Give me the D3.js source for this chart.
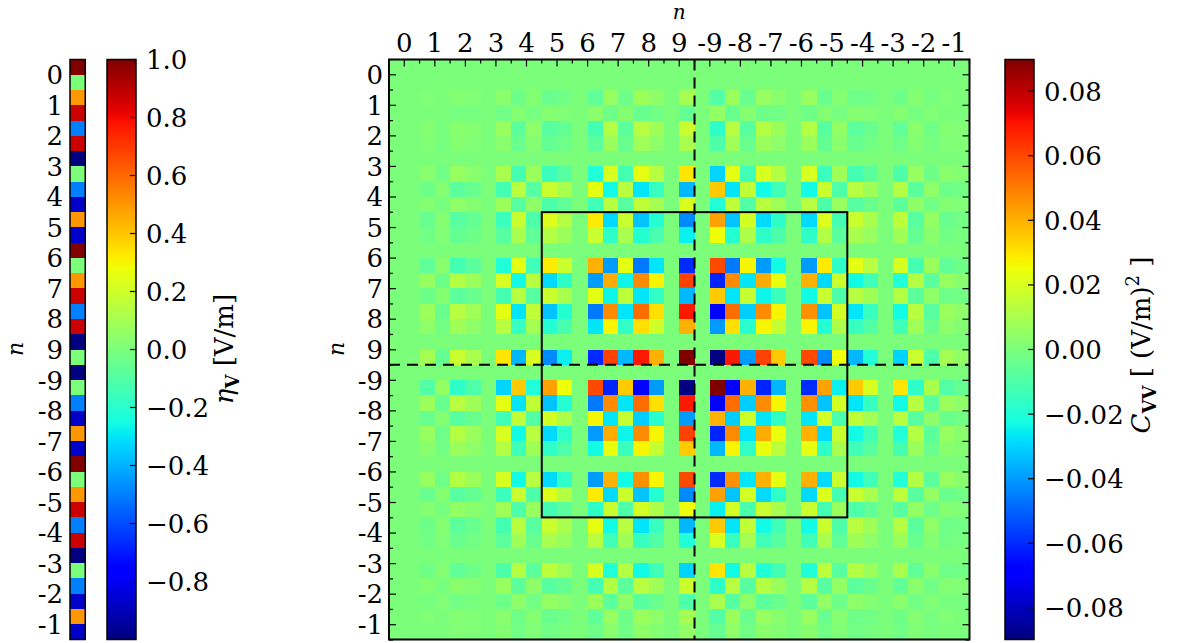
<!DOCTYPE html>
<html><head><meta charset="utf-8">
<script src="https://cdn.jsdelivr.net/npm/d3@7"></script>
<style>body{margin:0;background:#fff}svg{display:block}</style>
</head><body>
<svg id="c" width="1184" height="643"></svg>
<script>
// ---------- data ----------
const nLabels = ["0","1","2","3","4","5","6","7","8","9","-9","-8","-7","-6","-5","-4","-3","-2","-1"];
const etaV = [1.0,0.0,0.5,0.87,-0.5,0.87,-1.0,0.0,-0.5,-0.87,0.5,-0.87,1.0,0.0,0.5,0.87,-0.5,0.87,-1.0,0.0,
              -1.0,0.0,-0.5,-0.87,0.5,-0.87,1.0,0.0,0.5,0.87,-0.5,0.87,-1.0,0.0,-0.5,-0.87,0.5,-0.87];
const etaTicks = [1.0,0.8,0.6,0.4,0.2,0.0,-0.2,-0.4,-0.6,-0.8];
const cTicks = [0.08,0.06,0.04,0.02,0.00,-0.02,-0.04,-0.06,-0.08];
const cMax = 0.0898;
const z = [0,0,0,0,0,0,0,0,0,0,0,0,0,0,0,0,0,0,0,0,0,0,0,0,0,0,0,0,0,0,0,0,0,0,0,0,0,0];
const cVV = [
z,
z,
[0,0,.001,0,.002,.001,0,.003,-.003,.002,-.004,-.002,0,-.006,.006,-.003,.007,.004,0,.009,0,-.009,.007,-.004,.006,.003,0,.006,-.004,.002,-.003,-.002,0,-.003,.002,-.001,.001,0],
[0,0,0,0,-.001,-.001,0,-.002,.002,-.001,.002,.001,0,.003,-.003,.002,-.004,-.002,0,-.005,0,.005,-.004,.002,-.003,-.002,0,-.003,.002,-.001,.002,.001,0,.002,-.001,.001,0,0],
[0,0,.002,-.001,.003,.002,0,.006,-.007,.004,-.008,-.005,0,-.012,.012,-.007,.013,.008,0,.017,0,-.017,.013,-.008,.012,.007,0,.012,-.008,.005,-.007,-.004,0,-.006,.003,-.002,.002,.001],
[0,0,.001,-.001,.002,.001,0,.003,-.004,.002,-.005,-.003,0,-.007,.007,-.004,.008,.004,0,.010,0,-.010,.008,-.004,.007,.004,0,.007,-.005,.003,-.004,-.002,0,-.003,.002,-.001,.001,.001],
z,
[0,0,.003,-.002,.006,.003,0,.010,-.012,.007,-.014,-.008,0,-.020,.020,-.012,.023,.013,0,.030,0,-.030,.023,-.013,.020,.012,0,.020,-.014,.008,-.012,-.007,0,-.010,.006,-.003,.003,.002],
[0,0,-.003,.002,-.007,-.004,0,-.012,.013,-.008,.017,.010,0,.023,-.023,.013,-.027,-.015,0,-.035,0,.035,-.027,.015,-.023,-.013,0,-.023,.017,-.010,.013,.008,0,.012,-.007,.004,-.003,-.002],
[0,0,.002,-.001,.004,.002,0,.007,-.008,.004,-.010,-.006,0,-.013,.013,-.008,.015,.009,0,.020,0,-.020,.015,-.009,.013,.008,0,.013,-.010,.006,-.008,-.004,0,-.007,.004,-.002,.002,.001],
[0,0,-.004,.002,-.008,-.005,0,-.014,.017,-.010,.021,.012,0,.029,-.029,.017,-.033,-.019,0,-.043,0,.043,-.033,.019,-.029,-.017,0,-.029,.021,-.012,.017,.010,0,.014,-.008,.005,-.004,-.002],
[0,0,-.002,.001,-.005,-.003,0,-.008,.010,-.006,.012,.007,0,.017,-.017,.010,-.019,-.011,0,-.025,0,.025,-.019,.011,-.017,-.010,0,-.017,.012,-.007,.010,.006,0,.008,-.005,.003,-.002,-.001],
z,
[0,0,-.006,.003,-.012,-.007,0,-.020,.023,-.013,.029,.017,0,.040,-.040,.023,-.046,-.027,0,-.060,0,.060,-.046,.027,-.040,-.023,0,-.040,.029,-.017,.023,.013,0,.020,-.012,.007,-.006,-.003],
[0,0,.006,-.003,.012,.007,0,.020,-.023,.013,-.029,-.017,0,-.040,.041,-.024,.047,.027,0,.061,0,-.061,.047,-.027,.041,.024,0,.040,-.029,.017,-.023,-.013,0,-.020,.012,-.007,.006,.003],
[0,0,-.003,.002,-.007,-.004,0,-.012,.013,-.008,.017,.010,0,.023,-.024,.014,-.027,-.016,0,-.035,0,.035,-.027,.016,-.024,-.014,0,-.023,.017,-.010,.013,.008,0,.012,-.007,.004,-.003,-.002],
[0,0,.007,-.004,.013,.008,0,.023,-.027,.015,-.033,-.019,0,-.046,.047,-.027,.053,.031,0,.069,0,-.069,.053,-.031,.047,.027,0,.046,-.033,.019,-.027,-.015,0,-.023,.013,-.008,.007,.004],
[0,0,.004,-.002,.008,.004,0,.013,-.015,.009,-.019,-.011,0,-.027,.027,-.016,.031,.018,0,.040,0,-.040,.031,-.018,.027,.016,0,.027,-.019,.011,-.015,-.009,0,-.013,.008,-.004,.004,.002],
z,
[0,0,.009,-.005,.017,.010,0,.030,-.035,.020,-.043,-.025,0,-.060,.061,-.035,.069,.040,0,.0898,0,-.0898,.069,-.040,.061,.035,0,.060,-.043,.025,-.035,-.020,0,-.030,.017,-.010,.009,.005],
z,
[0,0,-.009,.005,-.017,-.010,0,-.030,.035,-.020,.043,.025,0,.060,-.061,.035,-.069,-.040,0,-.0898,0,.0898,-.069,.040,-.061,-.035,0,-.060,.043,-.025,.035,.020,0,.030,-.017,.010,-.009,-.005],
[0,0,.007,-.004,.013,.008,0,.023,-.027,.015,-.033,-.019,0,-.046,.047,-.027,.053,.031,0,.069,0,-.069,.053,-.031,.047,.027,0,.046,-.033,.019,-.027,-.015,0,-.023,.013,-.008,.007,.004],
[0,0,-.004,.002,-.008,-.004,0,-.013,.015,-.009,.019,.011,0,.027,-.027,.016,-.031,-.018,0,-.040,0,.040,-.031,.018,-.027,-.016,0,-.027,.019,-.011,.015,.009,0,.013,-.008,.004,-.004,-.002],
[0,0,.006,-.003,.012,.007,0,.020,-.023,.013,-.029,-.017,0,-.040,.041,-.024,.047,.027,0,.061,0,-.061,.047,-.027,.041,.024,0,.040,-.029,.017,-.023,-.013,0,-.020,.012,-.007,.006,.003],
[0,0,.003,-.002,.007,.004,0,.012,-.013,.008,-.017,-.010,0,-.023,.024,-.014,.027,.016,0,.035,0,-.035,.027,-.016,.024,.014,0,.023,-.017,.010,-.013,-.008,0,-.012,.007,-.004,.003,.002],
z,
[0,0,.006,-.003,.012,.007,0,.020,-.023,.013,-.029,-.017,0,-.040,.040,-.023,.046,.027,0,.060,0,-.060,.046,-.027,.040,.023,0,.040,-.029,.017,-.023,-.013,0,-.020,.012,-.007,.006,.003],
[0,0,-.004,.002,-.008,-.005,0,-.014,.017,-.010,.021,.012,0,.029,-.029,.017,-.033,-.019,0,-.043,0,.043,-.033,.019,-.029,-.017,0,-.029,.021,-.012,.017,.010,0,.014,-.008,.005,-.004,-.002],
[0,0,.002,-.001,.005,.003,0,.008,-.010,.006,-.012,-.007,0,-.017,.017,-.010,.019,.011,0,.025,0,-.025,.019,-.011,.017,.010,0,.017,-.012,.007,-.010,-.006,0,-.008,.005,-.003,.002,.001],
[0,0,-.003,.002,-.007,-.004,0,-.012,.013,-.008,.017,.010,0,.023,-.023,.013,-.027,-.015,0,-.035,0,.035,-.027,.015,-.023,-.013,0,-.023,.017,-.010,.013,.008,0,.012,-.007,.004,-.003,-.002],
[0,0,-.002,.001,-.004,-.002,0,-.007,.008,-.004,.010,.006,0,.013,-.013,.008,-.015,-.009,0,-.020,0,.020,-.015,.009,-.013,-.008,0,-.013,.010,-.006,.008,.004,0,.007,-.004,.002,-.002,-.001],
z,
[0,0,-.003,.002,-.006,-.003,0,-.010,.012,-.007,.014,.008,0,.020,-.020,.012,-.023,-.013,0,-.030,0,.030,-.023,.013,-.020,-.012,0,-.020,.014,-.008,.012,.007,0,.010,-.006,.003,-.003,-.002],
[0,0,.002,-.001,.003,.002,0,.006,-.007,.004,-.008,-.005,0,-.012,.012,-.007,.013,.008,0,.017,0,-.017,.013,-.008,.012,.007,0,.012,-.008,.005,-.007,-.004,0,-.006,.003,-.002,.002,.001],
[0,0,-.001,.001,-.002,-.001,0,-.003,.004,-.002,.005,.003,0,.007,-.007,.004,-.008,-.004,0,-.010,0,.010,-.008,.004,-.007,-.004,0,-.007,.005,-.003,.004,.002,0,.003,-.002,.001,-.001,-.001],
[0,0,.001,0,.002,.001,0,.003,-.003,.002,-.004,-.002,0,-.006,.006,-.003,.007,.004,0,.009,0,-.009,.007,-.004,.006,.003,0,.006,-.004,.002,-.003,-.002,0,-.003,.002,-.001,.001,0],
[0,0,0,0,.001,.001,0,.002,-.002,.001,-.002,-.001,0,-.003,.003,-.002,.004,.002,0,.005,0,-.005,.004,-.002,.003,.002,0,.003,-.002,.001,-.002,-.001,0,-.002,.001,-.001,0,0]
];

// ---------- colormap (jet) ----------
function seg(pts, t){
  for (let i=1;i<pts.length;i++){
    if (t<=pts[i][0]){ const a=pts[i-1], b=pts[i]; return a[1]+(b[1]-a[1])*(t-a[0])/(b[0]-a[0]); }
  }
  return pts[pts.length-1][1];
}
const RJ=[[0,0],[0.35,0],[0.66,1],[0.89,1],[1,0.5]];
const GJ=[[0,0],[0.125,0],[0.375,1],[0.64,1],[0.91,0],[1,0]];
const BJ=[[0,0.5],[0.11,1],[0.34,1],[0.65,0],[1,0]];
function jet(t){ t=Math.max(0,Math.min(1,t));
  return d3.rgb(Math.round(255*seg(RJ,t)),Math.round(255*seg(GJ,t)),Math.round(255*seg(BJ,t))).toString(); }

// ---------- layout ----------
const svg = d3.select("#c");
const FONT = "DejaVu Serif";
const FS = 26;
const yTop = 59.5, yBot = 639.5;
const mL = 389, mR = 969.5;
const idx = d3.range(38);
const xM = d3.scaleBand().domain(idx).range([mL, mR]);
const yM = d3.scaleBand().domain(idx).range([yTop, yBot]);
const cell = xM.bandwidth();
const cColor = d3.scaleSequential(jet).domain([-cMax, cMax]);
const eColor = d3.scaleSequential(jet).domain([-1, 1]);

const defs = svg.append("defs");
const grad = defs.append("linearGradient").attr("id", "jetG").attr("x1",0).attr("y1",1).attr("x2",0).attr("y2",0);
d3.range(0,1.0001,0.01).forEach(t=> grad.append("stop").attr("offset", t).attr("stop-color", jet(t)));

// ---------- eta column ----------
const vx0 = 70;
svg.append("g").selectAll("rect").data(etaV).join("rect")
  .attr("x", vx0).attr("y", (d,i)=>yM(i)).attr("width", cell).attr("height", cell+0.3)
  .attr("fill", d=>eColor(d)).attr("shape-rendering","crispEdges");
svg.append("rect").attr("x", vx0).attr("y", yTop).attr("width", cell).attr("height", yBot-yTop)
  .attr("fill","none").attr("stroke","#000").attr("stroke-width",1.5);
const pairY = i => yM(2*i) + cell;
svg.append("g").selectAll("text").data(nLabels).join("text")
  .attr("x", 63).attr("y", (d,i)=>pairY(i)+9.5).attr("text-anchor","end")
  .attr("font-family",FONT).attr("font-size",FS).text(d=>d);
svg.append("text").attr("transform","translate(23,349) rotate(-90)").attr("text-anchor","middle")
  .attr("font-family",FONT).attr("font-style","italic").attr("font-size",22).text("n");

// ---------- colorbars ----------
function colorbar(x0, w, scaleDomain, ticks, fmt){
  svg.append("rect").attr("x",x0).attr("y",yTop).attr("width",w).attr("height",yBot-yTop)
     .attr("fill","url(#jetG)");
  const ys = d3.scaleLinear().domain(scaleDomain).range([yBot, yTop]);
  svg.append("g").selectAll("line").data(ticks).join("line")
     .attr("x1",x0+w-6).attr("x2",x0+w).attr("y1",d=>ys(d)).attr("y2",d=>ys(d))
     .attr("stroke","#000").attr("stroke-width",1.2);
  svg.append("rect").attr("x",x0).attr("y",yTop).attr("width",w).attr("height",yBot-yTop)
     .attr("fill","none").attr("stroke","#000").attr("stroke-width",1.5);
  svg.append("g").selectAll("text").data(ticks).join("text")
     .attr("x",x0+w+10).attr("y",d=>ys(d)+9.5)
     .attr("font-family",FONT).attr("font-size",FS)
     .text(d=>fmt(d));
}
const minus = s => s.replace("-","\u2212");
colorbar(107, 29, [-1,1], etaTicks, d=>minus(d3.format(".1f")(d)));
{
  const t = svg.append("text").attr("transform","translate(233,349) rotate(-90)").attr("text-anchor","middle")
    .attr("font-family",FONT).attr("font-size",FS);
  t.append("tspan").attr("font-style","italic").text("η");
  t.append("tspan").attr("font-weight","bold").attr("font-size",18).attr("dy",6).text("V");
  t.append("tspan").attr("dy",-6).text(" [V/m]");
}
colorbar(1005, 29, [-cMax,cMax], cTicks, d=>minus(d3.format(".2f")(d)));
{
  const t = svg.append("text").attr("transform","translate(1150,345) rotate(-90)").attr("text-anchor","middle")
    .attr("font-family",FONT).attr("font-size",FS);
  t.append("tspan").attr("font-style","italic").text("C");
  t.append("tspan").attr("font-weight","bold").attr("font-size",18).attr("dy",6).text("VV");
  t.append("tspan").attr("dy",-6).text(" [ (V/m)");
  t.append("tspan").attr("font-size",18).attr("dy",-11).text("2");
  t.append("tspan").attr("dy",11).text(" ]");
}

// ---------- matrix ----------
const cells = [];
cVV.forEach((row,i)=>row.forEach((v,j)=>cells.push({i,j,v})));
svg.append("g").selectAll("rect").data(cells).join("rect")
  .attr("x", d=>xM(d.j)).attr("y", d=>yM(d.i)).attr("width", cell+0.3).attr("height", cell+0.3)
  .attr("fill", d=>cColor(d.v)).attr("shape-rendering","crispEdges");

const midB = xM(20), midBy = yM(20);
svg.append("line").attr("x1",midB).attr("x2",midB).attr("y1",yTop).attr("y2",yBot)
  .attr("stroke","#000").attr("stroke-width",2).attr("stroke-dasharray","11,7");
svg.append("line").attr("x1",mL).attr("x2",mR).attr("y1",midBy).attr("y2",midBy)
  .attr("stroke","#000").attr("stroke-width",2).attr("stroke-dasharray","11,7");
svg.append("rect").attr("x",xM(10)).attr("y",yM(10)).attr("width",xM(30)-xM(10)).attr("height",yM(30)-yM(10))
  .attr("fill","none").attr("stroke","#000").attr("stroke-width",2);

const bx = k => mL + k*cell, by = k => yTop + k*cell;
const tk = svg.append("g").attr("stroke","#000").attr("stroke-width",1.2);
d3.range(39).forEach(k=>{
  const len = (k%2===1)?7:4;
  tk.append("line").attr("x1",bx(k)).attr("x2",bx(k)).attr("y1",yTop).attr("y2",yTop+len);
  tk.append("line").attr("x1",mL).attr("x2",mL+len).attr("y1",by(k)).attr("y2",by(k));
  tk.append("line").attr("x1",mR-len).attr("x2",mR).attr("y1",by(k)).attr("y2",by(k));
});
svg.append("rect").attr("x",mL).attr("y",yTop).attr("width",mR-mL).attr("height",yBot-yTop)
  .attr("fill","none").attr("stroke","#000").attr("stroke-width",2);

svg.append("g").selectAll("text").data(nLabels).join("text")
  .attr("x",(d,i)=>xM(2*i)+cell).attr("y",52).attr("text-anchor","middle")
  .attr("font-family",FONT).attr("font-size",FS).text(d=>d);
svg.append("g").selectAll("text").data(nLabels).join("text")
  .attr("x",383).attr("y",(d,i)=>pairY(i)+9.5).attr("text-anchor","end")
  .attr("font-family",FONT).attr("font-size",FS).text(d=>d);
svg.append("text").attr("x",(mL+mR)/2).attr("y",19).attr("text-anchor","middle")
  .attr("font-family",FONT).attr("font-style","italic").attr("font-size",20).text("n");
svg.append("text").attr("transform","translate(344,349) rotate(-90)").attr("text-anchor","middle")
  .attr("font-family",FONT).attr("font-style","italic").attr("font-size",22).text("n");
</script>
</body></html>
